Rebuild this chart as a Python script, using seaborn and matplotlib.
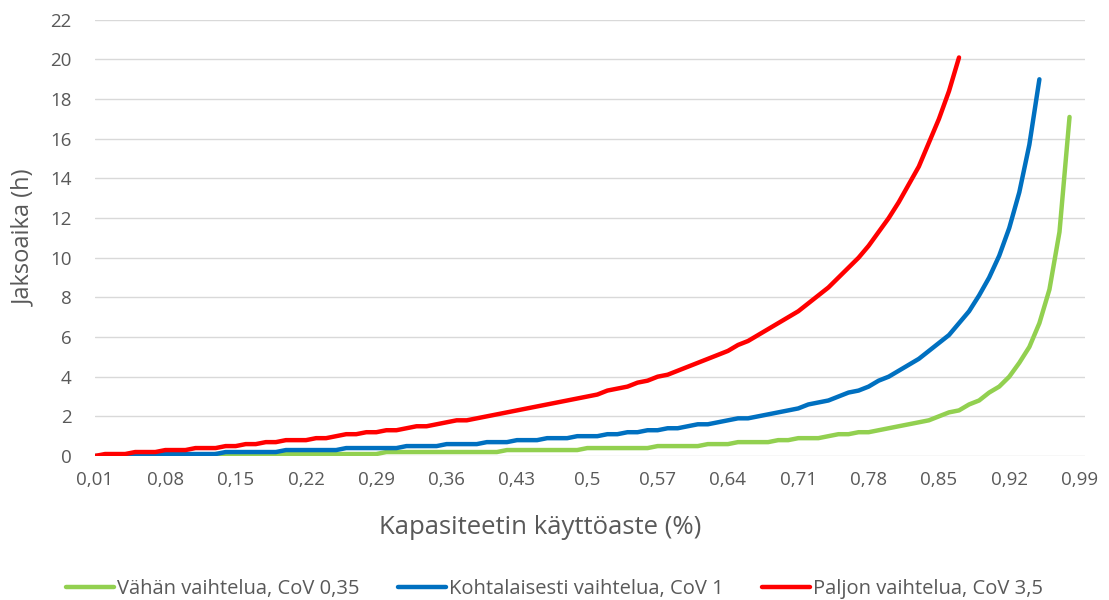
import numpy as np
import pandas as pd
import matplotlib
matplotlib.use("Agg")
import matplotlib.pyplot as plt
import seaborn as sns

# utilization categories 0.01 ... 0.99
utilization = [round(i / 100, 2) for i in range(1, 100)]

# cycle time (h), one value per category until the curve ends
low_var = [0.0, 0.0, 0.0, 0.0, 0.0, 0.0, 0.0, 0.0, 0.0, 0.0, 0.0, 0.0,
           0.1, 0.1, 0.1, 0.1, 0.1, 0.1, 0.1, 0.1, 0.1, 0.1, 0.1, 0.1, 0.1, 0.1, 0.1, 0.1, 0.1,
           0.2, 0.2, 0.2, 0.2, 0.2, 0.2, 0.2, 0.2, 0.2, 0.2, 0.2, 0.2,
           0.3, 0.3, 0.3, 0.3, 0.3, 0.3, 0.3, 0.3,
           0.4, 0.4, 0.4, 0.4, 0.4, 0.4, 0.4,
           0.5, 0.5, 0.5, 0.5, 0.5,
           0.6, 0.6, 0.6,
           0.7, 0.7, 0.7, 0.7, 0.8, 0.8, 0.9, 0.9, 0.9, 1.0,
           1.1, 1.1, 1.2, 1.2, 1.3, 1.4, 1.5, 1.6, 1.7, 1.8,
           2.0, 2.2, 2.3, 2.6, 2.8, 3.2, 3.5, 4.0, 4.7, 5.5,
           6.7, 8.4, 11.3, 17.1]

mid_var = [0.0, 0.0, 0.0, 0.0, 0.1, 0.1, 0.1, 0.1, 0.1, 0.1,
           0.1, 0.1, 0.1, 0.2, 0.2, 0.2, 0.2, 0.2, 0.2, 0.3,
           0.3, 0.3, 0.3, 0.3, 0.3, 0.4, 0.4, 0.4, 0.4, 0.4,
           0.4, 0.5, 0.5, 0.5, 0.5, 0.6, 0.6, 0.6, 0.6, 0.7,
           0.7, 0.7, 0.8, 0.8, 0.8, 0.9, 0.9, 0.9, 1.0, 1.0,
           1.0, 1.1, 1.1, 1.2, 1.2, 1.3, 1.3, 1.4, 1.4, 1.5,
           1.6, 1.6, 1.7, 1.8, 1.9, 1.9, 2.0, 2.1, 2.2, 2.3,
           2.4, 2.6, 2.7, 2.8, 3.0, 3.2, 3.3, 3.5, 3.8, 4.0,
           4.3, 4.6, 4.9, 5.3, 5.7, 6.1, 6.7, 7.3, 8.1, 9.0,
           10.1, 11.5, 13.3, 15.7, 19.0]

high_var = [0.0, 0.1, 0.1, 0.1, 0.2, 0.2, 0.2, 0.3, 0.3, 0.3,
            0.4, 0.4, 0.4, 0.5, 0.5, 0.6, 0.6, 0.7, 0.7, 0.8,
            0.8, 0.8, 0.9, 0.9, 1.0, 1.1, 1.1, 1.2, 1.2, 1.3,
            1.3, 1.4, 1.5, 1.5, 1.6, 1.7, 1.8, 1.8, 1.9, 2.0,
            2.1, 2.2, 2.3, 2.4, 2.5, 2.6, 2.7, 2.8, 2.9, 3.0,
            3.1, 3.3, 3.4, 3.5, 3.7, 3.8, 4.0, 4.1, 4.3, 4.5,
            4.7, 4.9, 5.1, 5.3, 5.6, 5.8, 6.1, 6.4, 6.7, 7.0,
            7.3, 7.7, 8.1, 8.5, 9.0, 9.5, 10.0, 10.6, 11.3, 12.0,
            12.8, 13.7, 14.6, 15.8, 17.0, 18.4, 20.1]

series_names = ["Vähän vaihtelua, CoV 0,35",
                "Kohtalaisesti vaihtelua, CoV 1",
                "Paljon vaihtelua, CoV 3,5"]
series_colors = ["#92D050", "#0070C0", "#FF0000"]

x_ticks = [0.01, 0.08, 0.15, 0.22, 0.29, 0.36, 0.43, 0.5, 0.57, 0.64, 0.71, 0.78, 0.85, 0.92, 0.99]
x_ticklabels = ["0,01", "0,08", "0,15", "0,22", "0,29", "0,36", "0,43", "0,5",
                "0,57", "0,64", "0,71", "0,78", "0,85", "0,92", "0,99"]
y_ticks = list(range(0, 23, 2))

frames = []
for name, vals in zip(series_names, [low_var, mid_var, high_var]):
    frames.append(pd.DataFrame({"u": utilization[:len(vals)], "h": vals, "series": name}))
df = pd.concat(frames, ignore_index=True)

sns.set_theme(style="white")
plt.rcParams['font.family'] = ['Open Sans', 'DejaVu Sans']
text_col = "#595959"

fig = plt.figure(figsize=(11.09, 6), dpi=100)
ax = fig.add_axes([0.0857, 0.24, 0.978 - 0.0857, 0.967 - 0.24])

sns.lineplot(data=df, x="u", y="h", hue="series", hue_order=series_names,
             palette=series_colors, linewidth=3.2, ax=ax, solid_capstyle="round")

ax.set_xlim(0.01, 0.995)
ax.set_ylim(0, 22)
ax.set_xticks(x_ticks)
ax.set_xticklabels(x_ticklabels)
ax.set_yticks(y_ticks)
ax.yaxis.grid(True, color="#D9D9D9", linewidth=1)
ax.xaxis.grid(False)
ax.set_axisbelow(True)
for s in ax.spines.values():
    s.set_visible(False)
ax.tick_params(length=0, labelsize=13.5, colors=text_col)
ax.tick_params(axis="x", pad=11)
ax.tick_params(axis="y", pad=17)

ax.set_xlabel("Kapasiteetin käyttöaste (%)", fontsize=18.5, color=text_col)
ax.xaxis.set_label_coords(0.45, -0.135)
ax.set_ylabel("Jaksoaika (h)", fontsize=17, color=text_col, labelpad=10)

handles, labels = ax.get_legend_handles_labels()
ax.get_legend().remove()
fig.legend(handles, labels, loc="center", bbox_to_anchor=(0.5, 0.018), ncol=3,
           frameon=False, fontsize=14.5, labelcolor=text_col, handlelength=2.4,
           handletextpad=0.15, columnspacing=1.9)

fig.savefig("out.png", dpi=100)
